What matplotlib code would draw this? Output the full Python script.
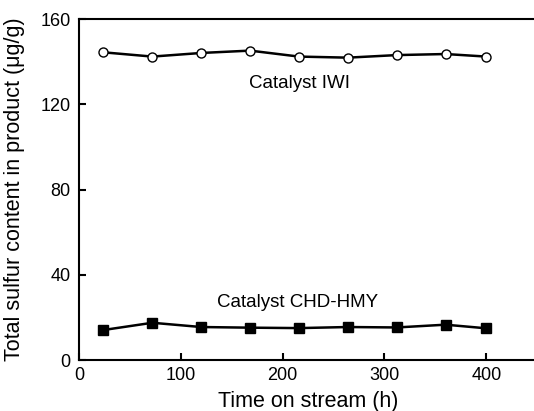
import matplotlib
matplotlib.use("Agg")
import matplotlib.pyplot as plt

plt.rcParams['font.family'] = ['Liberation Sans', 'DejaVu Sans']

time_h = [24, 72, 120, 168, 216, 264, 312, 360, 400]
iwi = [144.5, 142.5, 144.2, 145.3, 142.5, 142.0, 143.2, 143.7, 142.5]
chd_hmy = [14.1, 17.5, 15.5, 15.2, 15.0, 15.5, 15.3, 16.6, 14.9]

xticks = [0, 100, 200, 300, 400]
yticks = [0, 40, 80, 120, 160]

fig = plt.figure(figsize=(5.34, 4.11), dpi=100)
ax = fig.add_axes([0.148, 0.124, 0.858, 0.829])

ax.plot(time_h, iwi, '-', color='black', lw=1.8, marker='o', ms=6.5,
        mfc='white', mec='black', mew=1.0)
ax.plot(time_h, chd_hmy, '-', color='black', lw=1.8, marker='s', ms=6.5,
        mfc='black', mec='black')

ax.text(217, 130, 'Catalyst IWI', ha='center', va='center', fontsize=13.5)
ax.text(215, 27, 'Catalyst CHD-HMY', ha='center', va='center', fontsize=13.5)

ax.set_xlim(0, 450)
ax.set_ylim(0, 160)
ax.set_xticks(xticks)
ax.set_yticks(yticks)
ax.tick_params(direction='in', length=5, width=1.5, labelsize=13,
               top=False, right=False)
ax.tick_params(axis='y', pad=6)
ax.tick_params(axis='x', pad=5)
for s in ax.spines.values():
    s.set_linewidth(1.5)

ax.set_xlabel('Time on stream (h)', fontsize=15.5, labelpad=5)
ax.set_ylabel('Total sulfur content in product (μg/g)', fontsize=15.5, labelpad=11)

fig.savefig('out.png', dpi=100)
